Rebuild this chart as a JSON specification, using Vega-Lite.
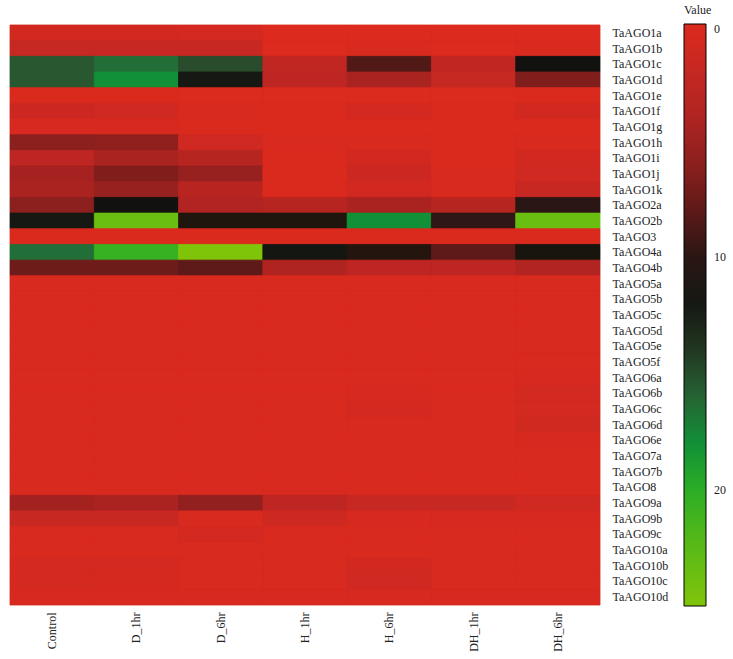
{
  "$schema": "https://vega.github.io/schema/vega-lite/v6.json",
  "autosize": {"type": "none"},
  "width": 590,
  "height": 580,
  "padding": {"left": 10, "top": 25, "right": 133, "bottom": 54},
  "background": "white",
  "config": {
    "view": {"stroke": null, "fill": "#dc2a1e"},
    "font": "Liberation Serif",
    "axis": {"grid": false}
  },
  "data": {"values": [
    {"gene":"TaAGO1a","sample":"Control","value":1},{"gene":"TaAGO1a","sample":"D_1hr","value":1},{"gene":"TaAGO1a","sample":"D_6hr","value":0.8},{"gene":"TaAGO1a","sample":"H_1hr","value":0},{"gene":"TaAGO1a","sample":"H_6hr","value":0},{"gene":"TaAGO1a","sample":"DH_1hr","value":0},{"gene":"TaAGO1a","sample":"DH_6hr","value":0},
    {"gene":"TaAGO1b","sample":"Control","value":2},{"gene":"TaAGO1b","sample":"D_1hr","value":1.8},{"gene":"TaAGO1b","sample":"D_6hr","value":1.8},{"gene":"TaAGO1b","sample":"H_1hr","value":0},{"gene":"TaAGO1b","sample":"H_6hr","value":0.3},{"gene":"TaAGO1b","sample":"DH_1hr","value":0},{"gene":"TaAGO1b","sample":"DH_6hr","value":0.3},
    {"gene":"TaAGO1c","sample":"Control","value":15.5},{"gene":"TaAGO1c","sample":"D_1hr","value":16.5},{"gene":"TaAGO1c","sample":"D_6hr","value":15},{"gene":"TaAGO1c","sample":"H_1hr","value":2.5},{"gene":"TaAGO1c","sample":"H_6hr","value":8.5},{"gene":"TaAGO1c","sample":"DH_1hr","value":2.5},{"gene":"TaAGO1c","sample":"DH_6hr","value":11.5},
    {"gene":"TaAGO1d","sample":"Control","value":15.5},{"gene":"TaAGO1d","sample":"D_1hr","value":18},{"gene":"TaAGO1d","sample":"D_6hr","value":12},{"gene":"TaAGO1d","sample":"H_1hr","value":2.8},{"gene":"TaAGO1d","sample":"H_6hr","value":4.5},{"gene":"TaAGO1d","sample":"DH_1hr","value":2},{"gene":"TaAGO1d","sample":"DH_6hr","value":6.5},
    {"gene":"TaAGO1e","sample":"Control","value":0.2},{"gene":"TaAGO1e","sample":"D_1hr","value":0.2},{"gene":"TaAGO1e","sample":"D_6hr","value":0.1},{"gene":"TaAGO1e","sample":"H_1hr","value":0.1},{"gene":"TaAGO1e","sample":"H_6hr","value":0.1},{"gene":"TaAGO1e","sample":"DH_1hr","value":0.1},{"gene":"TaAGO1e","sample":"DH_6hr","value":0.2},
    {"gene":"TaAGO1f","sample":"Control","value":1.5},{"gene":"TaAGO1f","sample":"D_1hr","value":1.2},{"gene":"TaAGO1f","sample":"D_6hr","value":0.3},{"gene":"TaAGO1f","sample":"H_1hr","value":0.2},{"gene":"TaAGO1f","sample":"H_6hr","value":0.8},{"gene":"TaAGO1f","sample":"DH_1hr","value":0.2},{"gene":"TaAGO1f","sample":"DH_6hr","value":1},
    {"gene":"TaAGO1g","sample":"Control","value":0.5},{"gene":"TaAGO1g","sample":"D_1hr","value":0.5},{"gene":"TaAGO1g","sample":"D_6hr","value":0.2},{"gene":"TaAGO1g","sample":"H_1hr","value":0.2},{"gene":"TaAGO1g","sample":"H_6hr","value":0.2},{"gene":"TaAGO1g","sample":"DH_1hr","value":0.2},{"gene":"TaAGO1g","sample":"DH_6hr","value":0.2},
    {"gene":"TaAGO1h","sample":"Control","value":6},{"gene":"TaAGO1h","sample":"D_1hr","value":5.8},{"gene":"TaAGO1h","sample":"D_6hr","value":1.2},{"gene":"TaAGO1h","sample":"H_1hr","value":0.3},{"gene":"TaAGO1h","sample":"H_6hr","value":0.3},{"gene":"TaAGO1h","sample":"DH_1hr","value":0.2},{"gene":"TaAGO1h","sample":"DH_6hr","value":0.3},
    {"gene":"TaAGO1i","sample":"Control","value":2.8},{"gene":"TaAGO1i","sample":"D_1hr","value":4.5},{"gene":"TaAGO1i","sample":"D_6hr","value":3.3},{"gene":"TaAGO1i","sample":"H_1hr","value":0.2},{"gene":"TaAGO1i","sample":"H_6hr","value":1},{"gene":"TaAGO1i","sample":"DH_1hr","value":0.2},{"gene":"TaAGO1i","sample":"DH_6hr","value":1},
    {"gene":"TaAGO1j","sample":"Control","value":4.8},{"gene":"TaAGO1j","sample":"D_1hr","value":6.5},{"gene":"TaAGO1j","sample":"D_6hr","value":5.5},{"gene":"TaAGO1j","sample":"H_1hr","value":0.2},{"gene":"TaAGO1j","sample":"H_6hr","value":1.5},{"gene":"TaAGO1j","sample":"DH_1hr","value":0.3},{"gene":"TaAGO1j","sample":"DH_6hr","value":1.2},
    {"gene":"TaAGO1k","sample":"Control","value":4.3},{"gene":"TaAGO1k","sample":"D_1hr","value":5.5},{"gene":"TaAGO1k","sample":"D_6hr","value":3.2},{"gene":"TaAGO1k","sample":"H_1hr","value":0.2},{"gene":"TaAGO1k","sample":"H_6hr","value":1},{"gene":"TaAGO1k","sample":"DH_1hr","value":0.3},{"gene":"TaAGO1k","sample":"DH_6hr","value":1.8},
    {"gene":"TaAGO2a","sample":"Control","value":6},{"gene":"TaAGO2a","sample":"D_1hr","value":11.5},{"gene":"TaAGO2a","sample":"D_6hr","value":3.8},{"gene":"TaAGO2a","sample":"H_1hr","value":3.3},{"gene":"TaAGO2a","sample":"H_6hr","value":4.3},{"gene":"TaAGO2a","sample":"DH_1hr","value":3.3},{"gene":"TaAGO2a","sample":"DH_6hr","value":10},
    {"gene":"TaAGO2b","sample":"Control","value":12},{"gene":"TaAGO2b","sample":"D_1hr","value":23.5},{"gene":"TaAGO2b","sample":"D_6hr","value":10.5},{"gene":"TaAGO2b","sample":"H_1hr","value":10.5},{"gene":"TaAGO2b","sample":"H_6hr","value":18},{"gene":"TaAGO2b","sample":"DH_1hr","value":9.8},{"gene":"TaAGO2b","sample":"DH_6hr","value":23.5},
    {"gene":"TaAGO3","sample":"Control","value":0.2},{"gene":"TaAGO3","sample":"D_1hr","value":0.2},{"gene":"TaAGO3","sample":"D_6hr","value":0.2},{"gene":"TaAGO3","sample":"H_1hr","value":0.2},{"gene":"TaAGO3","sample":"H_6hr","value":0.2},{"gene":"TaAGO3","sample":"DH_1hr","value":0.2},{"gene":"TaAGO3","sample":"DH_6hr","value":0.2},
    {"gene":"TaAGO4a","sample":"Control","value":16.5},{"gene":"TaAGO4a","sample":"D_1hr","value":20.5},{"gene":"TaAGO4a","sample":"D_6hr","value":25},{"gene":"TaAGO4a","sample":"H_1hr","value":11.8},{"gene":"TaAGO4a","sample":"H_6hr","value":10.3},{"gene":"TaAGO4a","sample":"DH_1hr","value":8},{"gene":"TaAGO4a","sample":"DH_6hr","value":11},
    {"gene":"TaAGO4b","sample":"Control","value":7.3},{"gene":"TaAGO4b","sample":"D_1hr","value":7.3},{"gene":"TaAGO4b","sample":"D_6hr","value":8},{"gene":"TaAGO4b","sample":"H_1hr","value":4},{"gene":"TaAGO4b","sample":"H_6hr","value":2.8},{"gene":"TaAGO4b","sample":"DH_1hr","value":2.8},{"gene":"TaAGO4b","sample":"DH_6hr","value":3.8},
    {"gene":"TaAGO5a","sample":"Control","value":0.3},{"gene":"TaAGO5a","sample":"D_1hr","value":0.3},{"gene":"TaAGO5a","sample":"D_6hr","value":0.3},{"gene":"TaAGO5a","sample":"H_1hr","value":0.3},{"gene":"TaAGO5a","sample":"H_6hr","value":0.3},{"gene":"TaAGO5a","sample":"DH_1hr","value":0.3},{"gene":"TaAGO5a","sample":"DH_6hr","value":0.3},
    {"gene":"TaAGO5b","sample":"Control","value":0.3},{"gene":"TaAGO5b","sample":"D_1hr","value":0.3},{"gene":"TaAGO5b","sample":"D_6hr","value":0.3},{"gene":"TaAGO5b","sample":"H_1hr","value":0.3},{"gene":"TaAGO5b","sample":"H_6hr","value":0.3},{"gene":"TaAGO5b","sample":"DH_1hr","value":0.3},{"gene":"TaAGO5b","sample":"DH_6hr","value":0.3},
    {"gene":"TaAGO5c","sample":"Control","value":0.3},{"gene":"TaAGO5c","sample":"D_1hr","value":0.3},{"gene":"TaAGO5c","sample":"D_6hr","value":0.3},{"gene":"TaAGO5c","sample":"H_1hr","value":0.3},{"gene":"TaAGO5c","sample":"H_6hr","value":0.3},{"gene":"TaAGO5c","sample":"DH_1hr","value":0.3},{"gene":"TaAGO5c","sample":"DH_6hr","value":0.3},
    {"gene":"TaAGO5d","sample":"Control","value":0.3},{"gene":"TaAGO5d","sample":"D_1hr","value":0.3},{"gene":"TaAGO5d","sample":"D_6hr","value":0.3},{"gene":"TaAGO5d","sample":"H_1hr","value":0.3},{"gene":"TaAGO5d","sample":"H_6hr","value":0.3},{"gene":"TaAGO5d","sample":"DH_1hr","value":0.3},{"gene":"TaAGO5d","sample":"DH_6hr","value":0.3},
    {"gene":"TaAGO5e","sample":"Control","value":0.3},{"gene":"TaAGO5e","sample":"D_1hr","value":0.3},{"gene":"TaAGO5e","sample":"D_6hr","value":0.3},{"gene":"TaAGO5e","sample":"H_1hr","value":0.3},{"gene":"TaAGO5e","sample":"H_6hr","value":0.3},{"gene":"TaAGO5e","sample":"DH_1hr","value":0.3},{"gene":"TaAGO5e","sample":"DH_6hr","value":0.3},
    {"gene":"TaAGO5f","sample":"Control","value":0.3},{"gene":"TaAGO5f","sample":"D_1hr","value":0.3},{"gene":"TaAGO5f","sample":"D_6hr","value":0.3},{"gene":"TaAGO5f","sample":"H_1hr","value":0.3},{"gene":"TaAGO5f","sample":"H_6hr","value":0.3},{"gene":"TaAGO5f","sample":"DH_1hr","value":0.3},{"gene":"TaAGO5f","sample":"DH_6hr","value":0.4},
    {"gene":"TaAGO6a","sample":"Control","value":0.3},{"gene":"TaAGO6a","sample":"D_1hr","value":0.3},{"gene":"TaAGO6a","sample":"D_6hr","value":0.3},{"gene":"TaAGO6a","sample":"H_1hr","value":0.3},{"gene":"TaAGO6a","sample":"H_6hr","value":0.3},{"gene":"TaAGO6a","sample":"DH_1hr","value":0.3},{"gene":"TaAGO6a","sample":"DH_6hr","value":0.5},
    {"gene":"TaAGO6b","sample":"Control","value":0.3},{"gene":"TaAGO6b","sample":"D_1hr","value":0.3},{"gene":"TaAGO6b","sample":"D_6hr","value":0.3},{"gene":"TaAGO6b","sample":"H_1hr","value":0.3},{"gene":"TaAGO6b","sample":"H_6hr","value":0.5},{"gene":"TaAGO6b","sample":"DH_1hr","value":0.3},{"gene":"TaAGO6b","sample":"DH_6hr","value":0.9},
    {"gene":"TaAGO6c","sample":"Control","value":0.3},{"gene":"TaAGO6c","sample":"D_1hr","value":0.3},{"gene":"TaAGO6c","sample":"D_6hr","value":0.3},{"gene":"TaAGO6c","sample":"H_1hr","value":0.3},{"gene":"TaAGO6c","sample":"H_6hr","value":0.8},{"gene":"TaAGO6c","sample":"DH_1hr","value":0.3},{"gene":"TaAGO6c","sample":"DH_6hr","value":0.9},
    {"gene":"TaAGO6d","sample":"Control","value":0.3},{"gene":"TaAGO6d","sample":"D_1hr","value":0.3},{"gene":"TaAGO6d","sample":"D_6hr","value":0.3},{"gene":"TaAGO6d","sample":"H_1hr","value":0.3},{"gene":"TaAGO6d","sample":"H_6hr","value":0.4},{"gene":"TaAGO6d","sample":"DH_1hr","value":0.3},{"gene":"TaAGO6d","sample":"DH_6hr","value":1.1},
    {"gene":"TaAGO6e","sample":"Control","value":0.3},{"gene":"TaAGO6e","sample":"D_1hr","value":0.3},{"gene":"TaAGO6e","sample":"D_6hr","value":0.3},{"gene":"TaAGO6e","sample":"H_1hr","value":0.3},{"gene":"TaAGO6e","sample":"H_6hr","value":0.3},{"gene":"TaAGO6e","sample":"DH_1hr","value":0.3},{"gene":"TaAGO6e","sample":"DH_6hr","value":0.5},
    {"gene":"TaAGO7a","sample":"Control","value":0.3},{"gene":"TaAGO7a","sample":"D_1hr","value":0.3},{"gene":"TaAGO7a","sample":"D_6hr","value":0.3},{"gene":"TaAGO7a","sample":"H_1hr","value":0.3},{"gene":"TaAGO7a","sample":"H_6hr","value":0.3},{"gene":"TaAGO7a","sample":"DH_1hr","value":0.3},{"gene":"TaAGO7a","sample":"DH_6hr","value":0.3},
    {"gene":"TaAGO7b","sample":"Control","value":0.3},{"gene":"TaAGO7b","sample":"D_1hr","value":0.3},{"gene":"TaAGO7b","sample":"D_6hr","value":0.3},{"gene":"TaAGO7b","sample":"H_1hr","value":0.3},{"gene":"TaAGO7b","sample":"H_6hr","value":0.3},{"gene":"TaAGO7b","sample":"DH_1hr","value":0.3},{"gene":"TaAGO7b","sample":"DH_6hr","value":0.3},
    {"gene":"TaAGO8","sample":"Control","value":0.3},{"gene":"TaAGO8","sample":"D_1hr","value":0.3},{"gene":"TaAGO8","sample":"D_6hr","value":0.3},{"gene":"TaAGO8","sample":"H_1hr","value":0.3},{"gene":"TaAGO8","sample":"H_6hr","value":0.3},{"gene":"TaAGO8","sample":"DH_1hr","value":0.3},{"gene":"TaAGO8","sample":"DH_6hr","value":0.3},
    {"gene":"TaAGO9a","sample":"Control","value":5},{"gene":"TaAGO9a","sample":"D_1hr","value":4.3},{"gene":"TaAGO9a","sample":"D_6hr","value":5.7},{"gene":"TaAGO9a","sample":"H_1hr","value":2.8},{"gene":"TaAGO9a","sample":"H_6hr","value":1.8},{"gene":"TaAGO9a","sample":"DH_1hr","value":1.8},{"gene":"TaAGO9a","sample":"DH_6hr","value":1.2},
    {"gene":"TaAGO9b","sample":"Control","value":1.8},{"gene":"TaAGO9b","sample":"D_1hr","value":1.8},{"gene":"TaAGO9b","sample":"D_6hr","value":0.3},{"gene":"TaAGO9b","sample":"H_1hr","value":1.3},{"gene":"TaAGO9b","sample":"H_6hr","value":0.5},{"gene":"TaAGO9b","sample":"DH_1hr","value":0.5},{"gene":"TaAGO9b","sample":"DH_6hr","value":0.5},
    {"gene":"TaAGO9c","sample":"Control","value":0.3},{"gene":"TaAGO9c","sample":"D_1hr","value":0.3},{"gene":"TaAGO9c","sample":"D_6hr","value":0.8},{"gene":"TaAGO9c","sample":"H_1hr","value":0.3},{"gene":"TaAGO9c","sample":"H_6hr","value":0.3},{"gene":"TaAGO9c","sample":"DH_1hr","value":0.3},{"gene":"TaAGO9c","sample":"DH_6hr","value":0.3},
    {"gene":"TaAGO10a","sample":"Control","value":0.3},{"gene":"TaAGO10a","sample":"D_1hr","value":0.3},{"gene":"TaAGO10a","sample":"D_6hr","value":0.3},{"gene":"TaAGO10a","sample":"H_1hr","value":0.3},{"gene":"TaAGO10a","sample":"H_6hr","value":0.3},{"gene":"TaAGO10a","sample":"DH_1hr","value":0.3},{"gene":"TaAGO10a","sample":"DH_6hr","value":0.3},
    {"gene":"TaAGO10b","sample":"Control","value":0.8},{"gene":"TaAGO10b","sample":"D_1hr","value":0.8},{"gene":"TaAGO10b","sample":"D_6hr","value":0.3},{"gene":"TaAGO10b","sample":"H_1hr","value":0.4},{"gene":"TaAGO10b","sample":"H_6hr","value":1},{"gene":"TaAGO10b","sample":"DH_1hr","value":0.4},{"gene":"TaAGO10b","sample":"DH_6hr","value":0.4},
    {"gene":"TaAGO10c","sample":"Control","value":0.8},{"gene":"TaAGO10c","sample":"D_1hr","value":0.6},{"gene":"TaAGO10c","sample":"D_6hr","value":0.3},{"gene":"TaAGO10c","sample":"H_1hr","value":0.4},{"gene":"TaAGO10c","sample":"H_6hr","value":1.2},{"gene":"TaAGO10c","sample":"DH_1hr","value":0.4},{"gene":"TaAGO10c","sample":"DH_6hr","value":0.4},
    {"gene":"TaAGO10d","sample":"Control","value":0.5},{"gene":"TaAGO10d","sample":"D_1hr","value":0.5},{"gene":"TaAGO10d","sample":"D_6hr","value":0.5},{"gene":"TaAGO10d","sample":"H_1hr","value":0.5},{"gene":"TaAGO10d","sample":"H_6hr","value":0.5},{"gene":"TaAGO10d","sample":"DH_1hr","value":0.5},{"gene":"TaAGO10d","sample":"DH_6hr","value":0.5}
  ]},
  "mark": {"type": "rect", "strokeWidth": 0.8, "stroke": {"expr": "scale('color', datum.value)"}},
  "encoding": {
    "x": {
      "field": "sample", "type": "nominal", "sort": null,
      "scale": {"paddingInner": 0, "paddingOuter": 0},
      "axis": {"orient": "bottom", "title": null, "labelAngle": -90, "ticks": false, "domain": false, "grid": false,
               "labelPadding": 7, "labelFont": "Liberation Serif", "labelFontSize": 12, "labelColor": "#222"}
    },
    "y": {
      "field": "gene", "type": "nominal", "sort": null,
      "scale": {"paddingInner": 0, "paddingOuter": 0},
      "axis": {"orient": "right", "title": null, "ticks": false, "domain": false, "grid": false,
               "labelPadding": 12, "labelFont": "Liberation Serif", "labelFontSize": 12, "labelColor": "#222"}
    },
    "color": {
      "field": "value", "type": "quantitative",
      "scale": {
        "domain": [25, 21, 19, 17, 15, 13, 11.5, 10, 8, 5, 2, 0],
        "range": ["#80c40a", "#3eb41e", "#12a62c", "#1a7a3c", "#284c2c", "#1a2418", "#111210", "#2a1614", "#5e1a18", "#a32220", "#c62822", "#dc2a1e"]
      },
      "legend": {
        "type": "gradient",
        "title": "Value", "orient": "none", "legendX": 674, "legendY": -20,
        "direction": "vertical", "gradientLength": 582, "gradientThickness": 22,
        "gradientStrokeColor": "#000", "gradientStrokeWidth": 1,
        "values": [0, 10, 20], "titleFont": "Liberation Serif", "titleFontSize": 12, "titleFontWeight": "normal",
        "titleColor": "#222", "titlePadding": 7, "titleAnchor": "start",
        "labelFont": "Liberation Serif", "labelFontSize": 12, "labelColor": "#222", "labelOffset": 8
      }
    }
  }
}
